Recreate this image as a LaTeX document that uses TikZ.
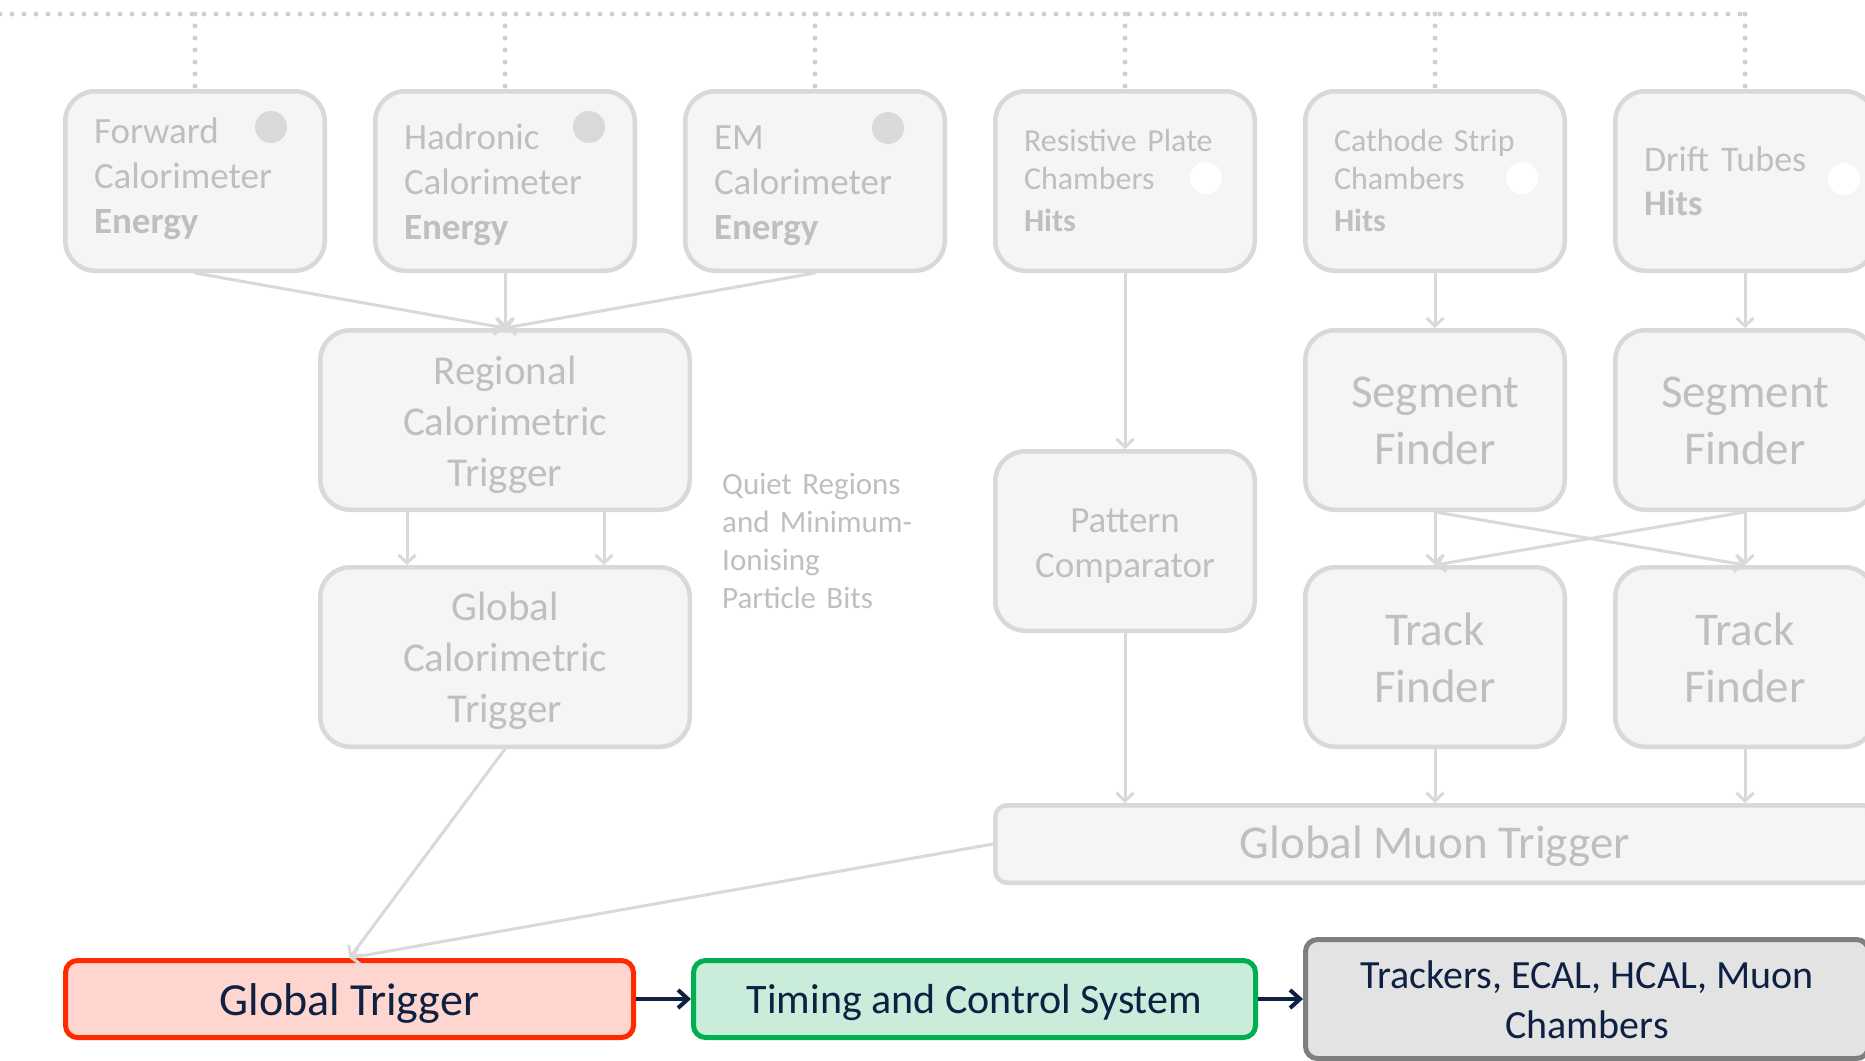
\documentclass[tikz,border=0pt]{standalone}
\usepackage{fontspec}
\setmainfont{Carlito}
\usetikzlibrary{arrows.meta}

\definecolor{boxline}{HTML}{D9D9D9}
\definecolor{boxfill}{HTML}{F5F5F5}
\definecolor{txtgrey}{HTML}{BFBFBF}
\definecolor{wiregrey}{HTML}{D9D9D9}
\definecolor{busgrey}{HTML}{D0D0D0}
\definecolor{navy}{HTML}{0E2143}
\definecolor{gtfill}{HTML}{FFD5CF}
\definecolor{gtline}{HTML}{FF2A00}
\definecolor{tcsfill}{HTML}{C9EDDA}
\definecolor{tcsline}{HTML}{00B050}
\definecolor{trkfill}{HTML}{E3E3E3}
\definecolor{trkline}{HTML}{7F7F7F}

% invisible struts fixing the height of the first line and the depth of the last
\newcommand\strutup[1]{\rule{0pt}{#1pt}}
\newcommand\strutdn[1]{\rule[-#1pt]{0pt}{#1pt}}

\begin{document}
\begin{tikzpicture}[x=1pt,y=-1pt,
  box/.style={draw=boxline, fill=boxfill, line width=4.5pt, rounded corners=30pt,
    text=txtgrey, inner sep=0pt, minimum width=259.5pt, minimum height=179.5pt},
  leftbox/.style={box, align=left, inner xsep=28.75pt, text width=202pt},
  cbox/.style={box, align=center},
  widebox/.style={box, minimum width=369.5pt},
  greydot/.style={circle, fill=boxline, inner sep=0pt, minimum size=32pt},
  whitedot/.style={circle, fill=white, inner sep=0pt, minimum size=32pt},
  mainbox/.style={line width=5pt, rounded corners=12pt, text=navy, inner sep=0pt,
    minimum height=77pt, align=center},
  wire/.style={draw=wiregrey, line width=3pt, line cap=round, line join=round,
    -{Straight Barb[length=8pt,width=17pt]}},
  flow/.style={draw=navy, line width=4pt, line join=round,
    -{Straight Barb[length=10pt,width=18pt]}},
  busline/.style={draw=busgrey, line width=5pt, line cap=round,
    dash pattern=on 0pt off 12pt},
  fbig/.style={font=\fontsize{37}{45}\selectfont},
  fsmall/.style={font=\fontsize{32}{38}\selectfont},
  fseg/.style={font=\fontsize{47}{57}\selectfont}
]
\useasboundingbox (0,0) rectangle (1865,1060);
\fill[white] (0,0) rectangle (1865,1060);
\clip (0,0) rectangle (1865,1060);

% detector sources
\node[leftbox, fbig] (fwd) at (195,181) {\strutup{36}Forward\\Calorimeter\\\textbf{Energy}\strutdn{22}};
\node[leftbox, fbig] (had) at (505,181) {\strutup{37}Hadronic\\Calorimeter\\\textbf{Energy}\strutdn{11}};
\node[leftbox, fbig] (em)  at (815,181) {\strutup{37}EM\\Calorimeter\\\textbf{Energy}\strutdn{11}};
\node[leftbox, fsmall] (rpc) at (1125,181) {Resistive Plate\\Chambers\\[4pt]\textbf{Hits}};
\node[leftbox, fsmall] (csc) at (1435,181) {Cathode Strip\\Chambers\\[4pt]\textbf{Hits}};
\node[leftbox, font=\fontsize{36}{44}\selectfont] (dt) at (1745,181) {Drift Tubes\\\textbf{Hits}};

\node[greydot] (fwddot) at (271,127) {};
\node[greydot] (haddot) at (589,127) {};
\node[greydot] (emdot)  at (888,128) {};
\node[whitedot] (rpcdot) at (1206,178) {};
\node[whitedot] (cscdot) at (1522,178) {};
\node[whitedot] (dtdot)  at (1844,179) {};

% calorimeter chain
\node[cbox, widebox, font=\fontsize{41}{51}\selectfont] (rct) at (505,420)
  {\strutup{45}Regional\\Calorimetric\\Trigger\strutdn{15}};
\node[cbox, widebox, font=\fontsize{41}{51}\selectfont] (gct) at (505,657)
  {\strutup{44}Global\\Calorimetric\\Trigger\strutdn{15}};
\node[anchor=west, inner sep=0pt, text=txtgrey, align=left, text width=200pt,
  font=\fontsize{31}{38}\selectfont] (quiet) at (722,541)
  {Quiet Regions\\and Minimum-\\Ionising\\Particle Bits};

% muon chain
\node[cbox, fbig] (pc) at (1125,541) {\strutup{42}Pattern\\Comparator\strutdn{15}};
\node[cbox, fseg] (sf1) at (1435,420) {\strutup{46}Segment\\Finder\strutdn{15}};
\node[cbox, fseg] (sf2) at (1745,420) {\strutup{46}Segment\\Finder\strutdn{15}};
\node[cbox, fseg] (tf1) at (1435,657) {\strutup{48}Track\\Finder\strutdn{15}};
\node[cbox, fseg] (tf2) at (1745,657) {\strutup{48}Track\\Finder\strutdn{15}};
\node[box, rounded corners=12pt, minimum width=879.5pt, minimum height=77.5pt,
  font=\fontsize{47}{50}\selectfont] (gmt) at (1435,844)
  {\strutup{43}Global Muon Trigger\strutdn{14}};

% trigger decision and distribution
\node[mainbox, draw=gtline, fill=gtfill, minimum width=568pt,
  font=\fontsize{46}{50}\selectfont] (gt) at (349.5,999)
  {\strutup{44}Global Trigger\strutdn{12}};
\node[mainbox, draw=tcsline, fill=tcsfill, minimum width=562pt,
  font=\fontsize{42}{50}\selectfont] (tcs) at (974.5,999)
  {\strutup{41}Timing and Control System\strutdn{12}};
\node[mainbox, draw=trkline, fill=trkfill, minimum width=563pt, minimum height=119pt,
  font=\fontsize{40}{50}\selectfont] (trk) at (1587,999)
  {\strutup{41}Trackers, ECAL, HCAL, Muon\\Chambers\strutdn{12}};

% dotted bus feeding the sources
\coordinate (busL) at (0,14);
\coordinate (busR) at (1746,14);
\draw[busline] (busL) -- (busR);
\foreach \n in {fwd,had,em,rpc,csc,dt}
  \draw[busline] (\n.north |- busL) -- (\n.north);

% calorimeter connections
\draw[wire] (fwd.south) -- (rct.north);
\draw[wire] (had.south) -- (rct.north);
\draw[wire] (em.south) -- (rct.north);
\draw[wire] ([xshift=-98pt]rct.south) -- ([xshift=-98pt]gct.north);
\draw[wire] ([xshift=99pt]rct.south) -- ([xshift=99pt]gct.north);

% muon connections
\draw[wire] (rpc.south) -- (pc.north);
\draw[wire] (csc.south) -- (sf1.north);
\draw[wire] (dt.south) -- (sf2.north);
\draw[wire] (sf1.south) -- (tf1.north);
\draw[wire] (sf2.south) -- (tf2.north);
\draw[wire] (sf1.south) -- (tf2.north);
\draw[wire] (sf2.south) -- (tf1.north);
\draw[wire] (pc.south) -- (pc.south |- gmt.north);
\draw[wire] (tf1.south) -- (tf1.south |- gmt.north);
\draw[wire] (tf2.south) -- (tf2.south |- gmt.north);

% into the global trigger
\draw[wire] (gct.south) -- (gt.north);
\draw[wire] (gmt.west) -- (gt.north);

% distribution
\draw[flow] (gt.east) -- (tcs.west);
\draw[flow] (tcs.east) -- (trk.west);
\end{tikzpicture}
\end{document}
